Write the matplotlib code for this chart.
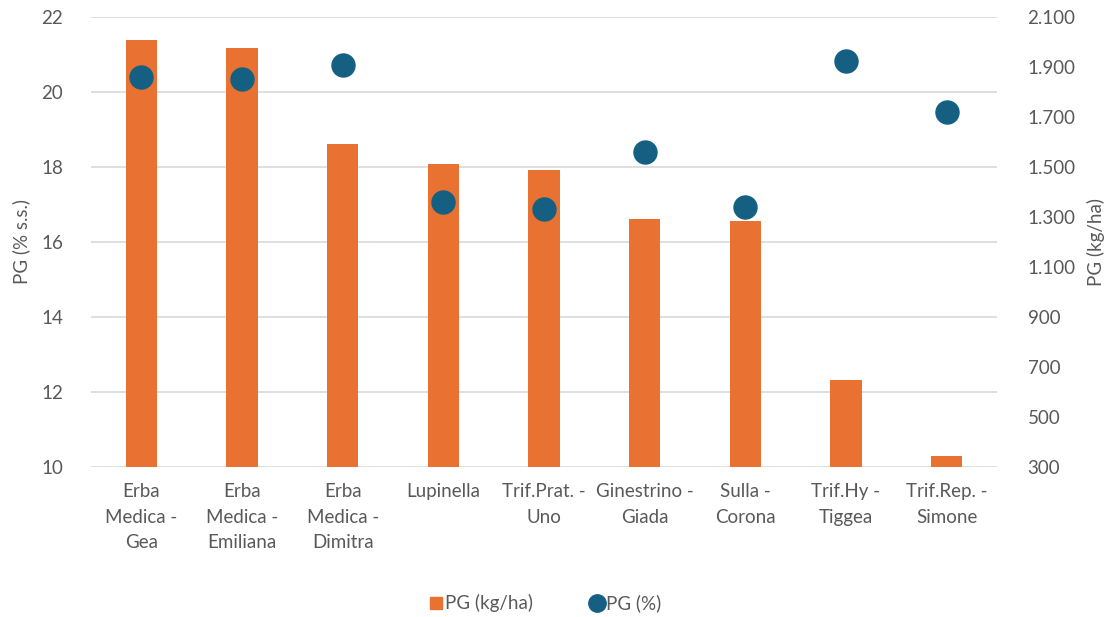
import matplotlib.pyplot as plt
from matplotlib.ticker import FuncFormatter
from matplotlib.lines import Line2D

plt.rcParams['font.family'] = ['Lato', 'DejaVu Sans']

labels = ['Erba\nMedica -\nGea', 'Erba\nMedica -\nEmiliana', 'Erba\nMedica -\nDimitra',
          'Lupinella', 'Trif.Prat. -\nUno', 'Ginestrino -\nGiada', 'Sulla -\nCorona',
          'Trif.Hy -\nTiggea', 'Trif.Rep. -\nSimone']
pg_kgha = [2005, 1973, 1591, 1511, 1485, 1289, 1281, 645, 344]
pg_pct = [20.40, 20.34, 20.70, 17.07, 16.86, 18.39, 16.92, 20.82, 19.45]

orange = '#E97132'
blue = '#156082'
grey = '#595959'
x = list(range(len(labels)))

fig = plt.figure(figsize=(11.08, 6.17), dpi=100)
ax = fig.add_axes([0.0821, 0.2436, 0.8177, 0.7294])
ax2 = ax.twinx()
ax3 = ax.twinx()

# left axis: % s.s. with grid
ax.set_ylim(10, 22)
ax.set_yticks(range(10, 23, 2))
ax.set_xlim(-0.5, len(labels) - 0.5)
ax.grid(axis='y', color='#D9D9D9', linewidth=1.2)
ax.set_axisbelow(True)
ax.set_xticks(x)
ax.set_xticklabels(labels, fontsize=13.5, color=grey, linespacing=1.6)
ax.set_ylabel('PG (% s.s.)', fontsize=13.5, color=grey, labelpad=8)
ax.tick_params(axis='both', length=0, labelsize=13.5, labelcolor=grey)
ax.tick_params(axis='y', pad=20)
ax.tick_params(axis='x', pad=12)

# right axis: kg/ha bars
ax2.bar(x, pg_kgha, width=0.31, color=orange, zorder=2)
ax2.set_ylim(300, 2100)
ax2.set_yticks(range(300, 2101, 200))
ax2.yaxis.set_major_formatter(FuncFormatter(lambda v, p: f'{int(v):,}'.replace(',', '.')))
ax2.tick_params(axis='y', length=0, labelsize=13.5, labelcolor=grey, pad=22)
ax2.set_ylabel('PG (kg/ha)', fontsize=13.5, color=grey, labelpad=8)

# dots on top, same scale as left axis
ax3.scatter(x, pg_pct, s=275, color=blue, zorder=3)
ax3.set_ylim(10, 22)
ax3.axis('off')

for a in (ax, ax2, ax3):
    for s in a.spines.values():
        s.set_visible(False)

handles = [Line2D([], [], marker='s', linestyle='none', color=orange, markersize=8),
           Line2D([], [], marker='o', linestyle='none', color=blue, markersize=12.5)]
fig.legend(handles, ['PG (kg/ha)', 'PG (%)'], loc='center', bbox_to_anchor=(0.49, 0.022),
           ncol=2, frameon=False, fontsize=13.5, labelcolor=grey, handletextpad=-0.1,
           columnspacing=2.8, handlelength=1.2)

fig.savefig('out.png', dpi=100)
